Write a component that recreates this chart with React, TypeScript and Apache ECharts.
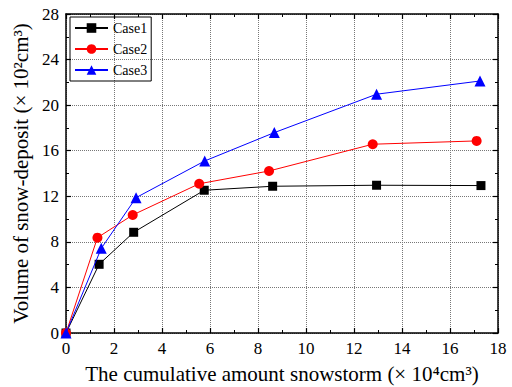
import React, { useEffect, useRef } from "react";
import * as echarts from "echarts";

const xCase1 = [0, 1.38, 2.82, 5.76, 8.61, 12.94, 17.29];
const yCase1 = [0, 6.03, 8.84, 12.53, 12.88, 12.97, 12.94];
const xCase2 = [0, 1.31, 2.78, 5.55, 8.46, 12.78, 17.11];
const yCase2 = [0, 8.37, 10.36, 13.1, 14.22, 16.57, 16.86];
const xCase3 = [0, 1.47, 2.92, 5.78, 8.68, 12.94, 17.25];
const yCase3 = [0, 7.43, 11.88, 15.1, 17.59, 20.96, 22.12];

const seriesNames = ["Case1", "Case2", "Case3"];
const xTitle = "The cumulative amount snowstorm (\u00d7 10\u2074cm\u00b3)";
const yTitle = "Volume of snow-deposit (\u00d7 10\u00b2cm\u00b3)";

const FONT = "Liberation Serif";

function pairs(xs: number[], ys: number[]) {
  return xs.map((x, i) => [x, ys[i]]);
}

export default function App() {
  const ref = useRef<HTMLDivElement>(null);
  useEffect(() => {
    if (!ref.current) return;
    const chart = echarts.init(ref.current, undefined, { renderer: "svg" });
    const axisCommon = {
      axisLine: { show: true, onZero: false, lineStyle: { color: "#000", width: 1.5 } },
      axisTick: { show: true, inside: true, length: 5, lineStyle: { color: "#000", width: 1.2 } },
      minorTick: { show: true, splitNumber: 2, length: 3, lineStyle: { color: "#000", width: 1 } },
    };
    chart.setOption({
      animation: false,
      backgroundColor: "#fff",
      textStyle: { fontFamily: FONT },
      grid: {
        left: 66,
        right: 14,
        top: 14,
        bottom: 54,
        containLabel: false,
        outerBoundsMode: "none",
      },
      legend: {
        orient: "vertical",
        left: 70,
        top: 17,
        itemWidth: 33,
        itemHeight: 12,
        itemGap: 7,
        padding: [4, 4, 4, 4],
        borderColor: "#000",
        borderWidth: 1,
        textStyle: { fontFamily: FONT, fontSize: 14, color: "#000" },
        data: seriesNames,
      },
      xAxis: [
        {
          type: "value",
          min: 0,
          max: 18,
          interval: 2,
          ...axisCommon,
          axisLabel: { fontFamily: FONT, fontSize: 17, color: "#000", margin: 7 },
          splitLine: { show: true, lineStyle: { color: "#777", type: "dotted", width: 1 } },
          name: xTitle,
          nameLocation: "middle",
          nameGap: 30,
          nameTextStyle: { fontFamily: FONT, fontSize: 21, color: "#000" },
        },
        {
          type: "value",
          position: "top",
          min: 0,
          max: 18,
          interval: 2,
          ...axisCommon,
          axisLabel: { show: false },
          splitLine: { show: false },
        },
      ],
      yAxis: [
        {
          type: "value",
          min: 0,
          max: 28,
          interval: 4,
          ...axisCommon,
          axisLabel: { fontFamily: FONT, fontSize: 17, color: "#000", margin: 7 },
          splitLine: { show: true, lineStyle: { color: "#777", type: "dotted", width: 1 } },
          name: yTitle,
          nameLocation: "middle",
          nameGap: 31,
          nameTextStyle: { fontFamily: FONT, fontSize: 21, color: "#000" },
        },
        {
          type: "value",
          position: "right",
          min: 0,
          max: 28,
          interval: 4,
          ...axisCommon,
          axisLabel: { show: false },
          splitLine: { show: false },
        },
      ],
      series: [
        {
          name: "Case1",
          type: "line",
          data: pairs(xCase1, yCase1),
          symbol: "rect",
          symbolSize: 9,
          color: "#000",
          lineStyle: { width: 1, color: "#000" },
          itemStyle: { color: "#000" },
          z: 3,
        },
        {
          name: "Case2",
          type: "line",
          data: pairs(xCase2, yCase2),
          symbol: "circle",
          symbolSize: 10,
          color: "#ff0000",
          lineStyle: { width: 1, color: "#ff0000" },
          itemStyle: { color: "#ff0000" },
          z: 4,
        },
        {
          name: "Case3",
          type: "line",
          data: pairs(xCase3, yCase3),
          symbol: "triangle",
          symbolSize: 11,
          color: "#0000ff",
          lineStyle: { width: 1, color: "#0000ff" },
          itemStyle: { color: "#0000ff" },
          z: 5,
        },
      ],
    });
    return () => chart.dispose();
  }, []);
  return (
    <div
      ref={ref}
      style={{ position: "fixed", left: 0, top: 0, width: 512, height: 387 }}
    />
  );
}
